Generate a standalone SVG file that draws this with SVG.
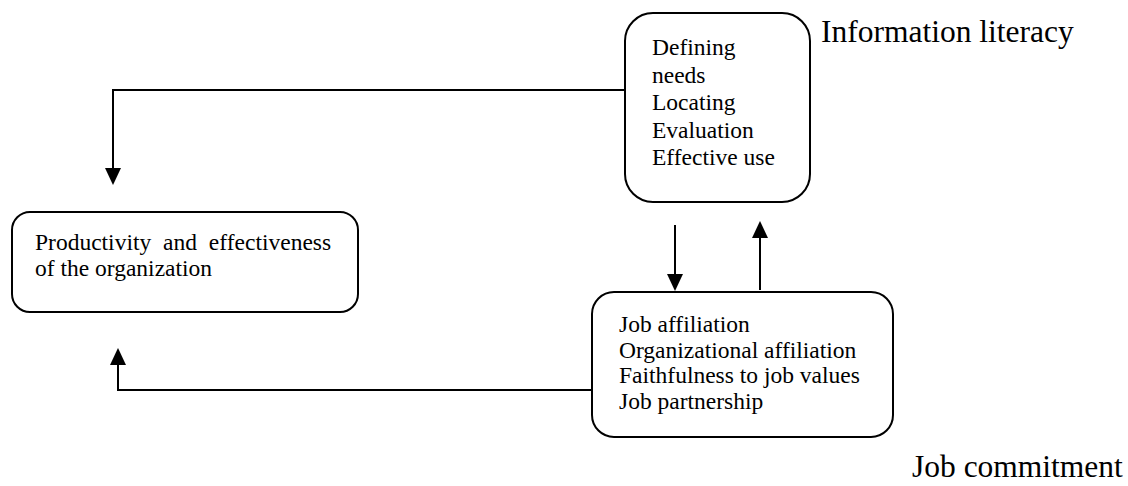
<svg xmlns="http://www.w3.org/2000/svg" width="1128" height="486" viewBox="0 0 1128 486">
<style>
.box{fill:#fff;stroke:#000;stroke-width:2}
.t{font-family:"Liberation Serif","Times New Roman",serif;font-size:23.5px;fill:#000}
.title{font-family:"Liberation Serif","Times New Roman",serif;font-size:31.5px;fill:#000}
.c{fill:none;stroke:#000;stroke-width:2}
</style>
<defs>
<marker id="ah" markerUnits="userSpaceOnUse" markerWidth="17" markerHeight="16" refX="0" refY="8" orient="auto" viewBox="0 0 17 16">
<path d="M0,0 L17,8 L0,16 z" fill="#000"/>
</marker>
</defs>
<rect width="1128" height="486" fill="#fff"/>
<g id="connectors">
<path class="c" d="M625,90 H113 V168" marker-end="url(#ah)"/>
<path class="c" d="M675,225 V274" marker-end="url(#ah)"/>
<path class="c" d="M760,290 V238" marker-end="url(#ah)"/>
<path class="c" d="M592,390 H118 V365" marker-end="url(#ah)"/>
</g>
<g id="information-literacy">
<rect class="box" x="625" y="13" width="185" height="189" rx="28"/>
<text class="t" x="652" y="55">Defining</text>
<text class="t" x="652" y="82.5">needs</text>
<text class="t" x="652" y="110">Locating</text>
<text class="t" x="652" y="137.5">Evaluation</text>
<text class="t" x="652" y="165">Effective use</text>
<text class="title" x="821" y="42">Information literacy</text>
</g>
<g id="productivity">
<rect class="box" x="12" y="212" width="346" height="100" rx="18"/>
<text class="t" x="35" y="250" word-spacing="6">Productivity and effectiveness</text>
<text class="t" x="35" y="276">of the organization</text>
</g>
<g id="job-commitment">
<rect class="box" x="592" y="292" width="301" height="145" rx="22"/>
<text class="t" x="619" y="332">Job affiliation</text>
<text class="t" x="619" y="357.5">Organizational affiliation</text>
<text class="t" x="619" y="383">Faithfulness to job values</text>
<text class="t" x="619" y="408.5">Job partnership</text>
<text class="title" x="912" y="477">Job commitment</text>
</g>
</svg>
